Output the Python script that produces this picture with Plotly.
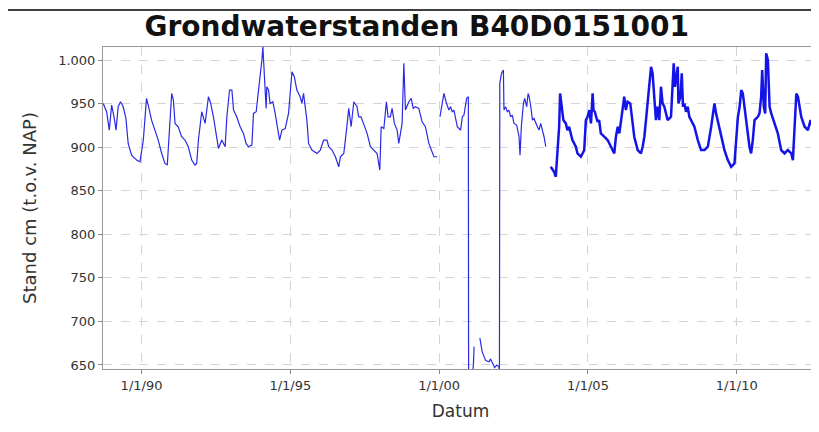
import plotly.graph_objects as go

# ---- data ----
early_dates = [
    "1988-09-18", "1988-10-29", "1988-12-01", "1988-12-30", "1989-01-28", "1989-02-22",
    "1989-03-20", "1989-04-18", "1989-05-21", "1989-06-23", "1989-07-21", "1989-09-01",
    "1989-11-02", "1989-12-13", "1990-01-23", "1990-03-03", "1990-03-24", "1990-05-04",
    "1990-06-14", "1990-07-25", "1990-09-05", "1990-10-15", "1990-11-13", "1990-12-08",
    "1991-01-06", "1991-01-27", "1991-02-16", "1991-03-27", "1991-05-08", "1991-06-18",
    "1991-07-29", "1991-09-09", "1991-10-19", "1991-11-09", "1991-11-30", "1992-01-10",
    "1992-02-20", "1992-04-01", "1992-04-29", "1992-06-01", "1992-07-12", "1992-08-02",
    "1992-09-12", "1992-10-23", "1992-11-13", "1992-12-16", "1993-01-14", "1993-02-03",
    "1993-03-14", "1993-04-25", "1993-06-05", "1993-07-07", "1993-08-05", "1993-09-16",
    "1993-10-06", "1993-11-08", "1993-12-07", "1993-12-27", "1994-01-17", "1994-01-29",
    "1994-02-15", "1994-03-10", "1994-03-18", "1994-04-08", "1994-04-28", "1994-05-31",
    "1994-06-29", "1994-07-19", "1994-08-22", "1994-09-20", "1994-10-31", "1994-12-10",
    "1995-01-01", "1995-01-21", "1995-02-19", "1995-03-22", "1995-05-02", "1995-05-23",
    "1995-06-12", "1995-07-02", "1995-07-23", "1995-08-13", "1995-09-23", "1995-11-24",
    "1996-01-04", "1996-02-14", "1996-03-26", "1996-04-16", "1996-05-27", "1996-07-07",
    "1996-08-17", "1996-09-07", "1996-10-18", "1996-11-20", "1996-12-18", "1997-01-16",
    "1997-02-18", "1997-03-29", "1997-04-19", "1997-05-18", "1997-06-20", "1997-07-31",
    "1997-09-10", "1997-10-21", "1997-12-01", "1998-01-03", "1998-01-20", "1998-02-22",
    "1998-03-25", "1998-04-15", "1998-05-13", "1998-06-03", "1998-07-01", "1998-08-04",
    "1998-08-24", "1998-10-04", "1998-10-25", "1998-11-14", "1998-12-25", "1999-01-24",
    "1999-02-17", "1999-03-16", "1999-04-27", "1999-06-06", "1999-07-17", "1999-08-28",
    "1999-09-26", "1999-10-29", "1999-12-08", "1999-12-25",
    "2000-01-11", "2000-02-29", "2000-04-01", "2000-04-30", "2000-05-20", "2000-06-10",
    "2000-07-01", "2000-07-21", "2000-08-11", "2000-09-01", "2000-09-21", "2000-10-12",
    "2000-11-01", "2000-12-04", "2000-12-25", "2000-12-28", "2001-02-10", "2001-03-01",
    "2001-03-05", "2001-03-20",
    "2001-05-15", "2001-06-13", "2001-07-26", "2001-09-05", "2001-09-24", "2001-10-15",
    "2001-11-13", "2001-12-08", "2002-01-05", "2002-01-10", "2002-01-15",
    "2002-02-04", "2002-02-28", "2002-03-07", "2002-03-27", "2002-04-17", "2002-05-07",
    "2002-05-28", "2002-06-17", "2002-07-08", "2002-08-10", "2002-09-08", "2002-09-20",
    "2002-10-06", "2002-11-01", "2002-11-17", "2002-12-11", "2002-12-28", "2003-01-10",
    "2003-01-30", "2003-02-20", "2003-03-10", "2003-04-01", "2003-04-21", "2003-05-11",
    "2003-06-01", "2003-06-21", "2003-07-12", "2003-08-02",
]
early_levels = [
    950.2, 940.7, 919.6, 948.3, 934.9, 919.6,
    946.4, 952.2, 946.4, 933.0, 904.3, 890.9,
    885.2, 883.3, 908.2, 956.0, 948.3, 931.1,
    919.6, 908.2, 892.8, 881.4, 879.5, 919.6,
    961.7, 954.1, 927.3, 923.5, 912.0, 908.2,
    900.5, 885.2, 879.5, 881.4, 908.2, 940.7,
    927.3, 957.9, 950.2, 934.9, 908.2, 898.6,
    908.2, 900.5, 934.9, 965.6, 965.6, 942.6,
    934.9, 923.5, 915.8, 904.3, 900.5, 902.4,
    938.8, 940.7, 965.6, 980.9, 1000.0, 1015.3,
    984.7, 944.5, 969.4, 965.6, 950.2, 952.2,
    938.8, 927.3, 908.2, 919.6, 921.5, 938.8,
    961.7, 986.6, 980.9, 965.6, 957.9, 950.2,
    961.7, 946.4, 931.1, 904.3, 896.7, 892.8,
    896.7, 908.2, 908.2, 900.5, 896.7, 889.0,
    877.5, 889.0, 892.8, 919.6, 944.5, 923.5,
    952.2, 946.4, 934.9, 934.9, 927.3, 915.8,
    900.5, 896.7, 892.8, 873.7, 923.5, 921.5,
    952.2, 934.9, 934.9, 944.5, 927.3, 919.6,
    904.3, 927.3, 996.2, 942.6, 952.2, 956.0,
    944.5, 946.4, 944.5, 929.2, 923.5, 904.3,
    896.7, 889.0, 889.0, None,
    934.9, 961.7, 950.2, 942.6, 946.4, 940.7,
    942.6, 931.1, 923.5, 921.5, 919.6, 934.9,
    936.9, 956.0, 957.9, 620.0, 625.0, 659.0,
    671.0, None,
    681.0, 665.0, 655.0, 653.6, 657.0, 652.0,
    647.0, 650.0, 648.0, 630.0, 973.2,
    984.7, 988.5, 942.6, 946.4, 940.7, 942.6,
    934.9, 936.9, 927.3, 925.4, 912.0, 890.9,
    923.5, 950.2, 956.0, 946.4, 961.7, 957.9,
    946.4, 931.1, 933.0, 927.3, 923.5, 919.6,
    927.3, 919.6, 912.0, 900.5,
]

late_dates = [
    "2003-10-02", "2003-11-12", "2003-12-03", "2003-12-23", "2004-01-13", "2004-01-25",
    "2004-02-11", "2004-03-05", "2004-04-04", "2004-04-24", "2004-05-14", "2004-06-04",
    "2004-06-24", "2004-07-15", "2004-08-05", "2004-08-25", "2004-09-15", "2004-10-06",
    "2004-10-26", "2004-11-16", "2004-12-06", "2004-12-27", "2005-01-17", "2005-02-07",
    "2005-02-27", "2005-03-10", "2005-03-26", "2005-04-28", "2005-05-18", "2005-06-08",
    "2005-07-19", "2005-08-30", "2005-10-10", "2005-11-20", "2005-12-10", "2006-01-01",
    "2006-01-21", "2006-03-01", "2006-03-22", "2006-04-11", "2006-05-02", "2006-06-04",
    "2006-07-02", "2006-07-23", "2006-09-03", "2006-10-13", "2006-11-03", "2006-11-24",
    "2006-12-14", "2007-01-04", "2007-01-25", "2007-02-14", "2007-03-05", "2007-03-25",
    "2007-04-15", "2007-05-05", "2007-05-26", "2007-06-16", "2007-07-06", "2007-07-27",
    "2007-08-16", "2007-09-06", "2007-10-17", "2007-11-19", "2007-12-05", "2008-01-08",
    "2008-01-16", "2008-02-10", "2008-02-26", "2008-03-12", "2008-03-29", "2008-04-18",
    "2008-05-09", "2008-05-29", "2008-06-19", "2008-07-30", "2008-09-10", "2008-10-20",
    "2008-12-01", "2009-01-11", "2009-02-21", "2009-03-12", "2009-04-02", "2009-04-22",
    "2009-05-12", "2009-06-23", "2009-08-03", "2009-09-13", "2009-10-24", "2009-12-04",
    "2009-12-25", "2010-01-15", "2010-02-05", "2010-02-25", "2010-03-16", "2010-04-06",
    "2010-04-26", "2010-05-16", "2010-06-06", "2010-06-26", "2010-07-17", "2010-08-07",
    "2010-09-17", "2010-10-07", "2010-10-27", "2010-11-09", "2010-11-29", "2010-12-16",
    "2010-12-28", "2011-01-18", "2011-02-08", "2011-02-28", "2011-04-09", "2011-05-20",
    "2011-06-30", "2011-08-10", "2011-09-20", "2011-11-01", "2011-11-21", "2011-12-11",
    "2012-01-02", "2012-01-22", "2012-02-12", "2012-03-02", "2012-04-13", "2012-05-23",
    "2012-06-25", "2012-07-24", "2012-08-14", "2012-09-04", "2012-09-24", "2012-10-23",
]
late_levels = [
    877.5, 871.8, 866.1, 896.7, 923.5, 961.7,
    946.4, 931.1, 927.3, 919.6, 923.5, 915.8,
    908.2, 904.3, 900.5, 892.8, 890.9, 889.0,
    892.8, 896.7, 931.1, 934.9, 942.6, 927.3,
    961.7, 942.6, 940.7, 929.2, 931.1, 915.8,
    912.0, 908.2, 900.5, 892.8, 912.0, 923.5,
    915.8, 946.4, 957.9, 942.6, 952.2, 950.2,
    927.3, 912.0, 896.7, 892.8, 900.5, 912.0,
    931.1, 954.1, 973.2, 992.3, 984.7, 957.9,
    931.1, 946.4, 931.1, 969.4, 950.2, 946.4,
    938.8, 931.1, 934.9, 996.2, 969.4, 992.3,
    950.2, 957.9, 984.7, 946.4, 950.2, 940.7,
    946.4, 934.9, 931.1, 923.5, 908.2, 896.7,
    896.7, 900.5, 923.5, 934.9, 950.2, 938.8,
    931.1, 915.8, 896.7, 885.2, 877.5, 881.4,
    912.0, 934.9, 946.4, 965.6, 961.7, 946.4,
    934.9, 915.8, 900.5, 892.8, 908.2, 931.1,
    934.9, 938.8, 957.9, 988.5, 946.4, 938.8,
    1007.7, 1000.0, 946.4, 938.8, 927.3, 915.8,
    896.7, 892.8, 896.7, 892.8, 885.2, 915.8,
    961.7, 957.9, 946.4, 934.9, 923.5, 919.6,
    931.1, 923.5, 915.8, 904.3, 900.5, 908.2,
]

tick_dates = ["1990-01-01", "1995-01-01", "2000-01-01", "2005-01-01", "2010-01-01"]
tick_date_labels = ["1/1/90", "1/1/95", "1/1/00", "1/1/05", "1/1/10"]
y_ticks = [650, 700, 750, 800, 850, 900, 950, 1000]
y_tick_labels = ["650", "700", "750", "800", "850", "900", "950", "1.000"]

# ---- figure ----
# The page body keeps its default 8px margin, so the figure is sized to fill
# the remaining visible area of the 819x432 window.
fig = go.Figure()
fig.add_trace(go.Scatter(x=early_dates, y=early_levels, mode="lines",
                         line=dict(color="#2a2ae6", width=1.2), connectgaps=False,
                         showlegend=False, hoverinfo="skip"))
fig.add_trace(go.Scatter(x=late_dates, y=late_levels, mode="lines",
                         line=dict(color="#1414e8", width=2.5), connectgaps=False,
                         showlegend=False, hoverinfo="skip"))

font_family = "DejaVu Sans"
fig.update_layout(
    width=811, height=416,
    margin=dict(l=95, r=1, t=39, b=55, autoexpand=False),
    paper_bgcolor="white", plot_bgcolor="white",
    title=dict(text="<b>Grondwaterstanden B40D0151001</b>", x=0.504, xanchor="center",
               y=1 - 18 / 416, yanchor="middle", yref="container",
               font=dict(family=font_family, size=28, color="#111")),
    xaxis=dict(type="date", range=["1988-09-15", "2012-09-24"], automargin=False,
               tickvals=tick_dates, ticktext=tick_date_labels,
               ticks="outside", ticklen=4, tickcolor="#888",
               showgrid=True, gridcolor="#d4d4d4", griddash="dash", gridwidth=1,
               showline=True, linecolor="#999", linewidth=1, mirror=True,
               zeroline=False,
               tickfont=dict(family=font_family, size=13, color="#333"),
               title=dict(text="Datum", standoff=13,
                          font=dict(family=font_family, size=17, color="#333"))),
    yaxis=dict(range=[645.4, 1015], tickvals=y_ticks, ticktext=y_tick_labels, automargin=False,
               ticks="outside", ticklen=4, tickcolor="#888",
               showgrid=True, gridcolor="#d4d4d4", griddash="dash", gridwidth=1,
               showline=True, linecolor="#999", linewidth=1, mirror=True,
               zeroline=False,
               tickfont=dict(family=font_family, size=13, color="#333"),
               title=dict(text="Stand cm (t.o.v. NAP)", standoff=16,
                          font=dict(family=font_family, size=18, color="#333"))),
    shapes=[
        dict(type="line", xref="paper", yref="paper", x0=-0.2, x1=1.01,
             y0=1 + 37 / 322, y1=1 + 37 / 322, line=dict(color="black", width=1.5)),
    ],
)

fig.write_html("out.html")
